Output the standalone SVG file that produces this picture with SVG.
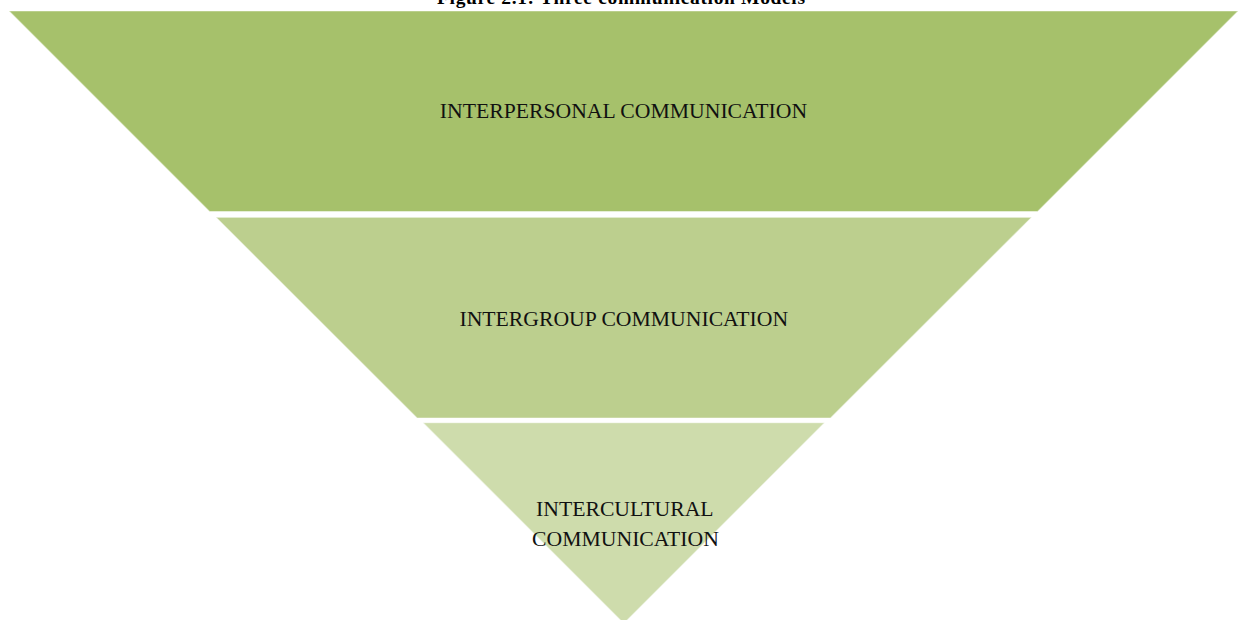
<svg xmlns="http://www.w3.org/2000/svg" width="1239" height="620" viewBox="0 0 1239 620">
  <style>
    .seg { stroke: #ffffff; stroke-opacity: 0.45; stroke-width: 1.2; }
    .lbl { font-family: "Liberation Serif", "Times New Roman", serif; font-size: 21.7px; fill: #111111; text-anchor: middle; }
    .title { font-family: "Liberation Serif", "Times New Roman", serif; font-size: 19.5px; font-weight: bold; fill: #000000; }
  </style>
  <rect width="1239" height="620" fill="#ffffff"/>
  <text class="title" x="437" y="4" textLength="368" lengthAdjust="spacing">Figure 2.1: Three communication Models</text>
  <g id="node-interpersonal">
    <polygon class="seg" points="9,11 1238.2,11 1037.7,211.5 209.5,211.5" fill="#a6c16b"/>
    <text class="lbl" x="623.5" y="118">INTERPERSONAL COMMUNICATION</text>
  </g>
  <g id="node-intergroup">
    <polygon class="seg" points="216,217.3 1031.6,217.3 830.6,418 417,418" fill="#bccf8e"/>
    <text class="lbl" x="623.8" y="326">INTERGROUP COMMUNICATION</text>
  </g>
  <g id="node-intercultural">
    <polygon class="seg" points="423,422.7 824.6,422.7 623.8,623.5" fill="#cedcac"/>
    <text class="lbl" x="624.8" y="516">INTERCULTURAL</text>
    <text class="lbl" x="625.5" y="545.7">COMMUNICATION</text>
  </g>
  <g id="connectors"></g>
</svg>
